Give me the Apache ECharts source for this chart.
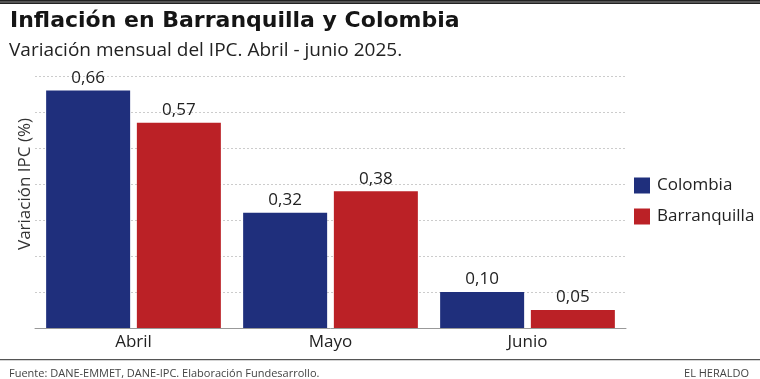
<!DOCTYPE html>
<html><head><meta charset="utf-8">
<script src="https://cdn.jsdelivr.net/npm/echarts@6/dist/echarts.min.js"></script>
<style>html,body{margin:0;padding:0;background:#fff}#c{width:760px;height:379px}</style>
</head><body><div id="c"></div>
<script>
const categories = ['Abril', 'Mayo', 'Junio'];
const colombia = [0.66, 0.32, 0.10];
const barranquilla = [0.57, 0.38, 0.05];
const seriesNames = ['Colombia', 'Barranquilla'];

const chart = echarts.init(document.getElementById('c'), null, {renderer: 'canvas'});
const FONT = 'Open Sans';
const fmt = p => p.value.toFixed(2).replace('.', ',');
chart.setOption({
  animation: false,
  backgroundColor: '#fff',
  textStyle: {fontFamily: FONT},
  title: [
    {text: 'Inflación en Barranquilla y Colombia', left: 5, top: 5,
     textStyle: {fontFamily: 'DejaVu Sans', fontWeight: 'bold', fontSize: 22, color: '#151515'}},
    {text: 'Variación mensual del IPC. Abril - junio 2025.', left: 4, top: 36,
     textStyle: {fontFamily: FONT, fontWeight: 'normal', fontSize: 19, color: '#222'}},
    {text: 'Fuente: DANE-EMMET, DANE-IPC. Elaboración Fundesarrollo.', left: 4, top: 363,
     textStyle: {fontFamily: FONT, fontWeight: 'normal', fontSize: 11, color: '#444'}},
    {text: 'EL HERALDO', right: 6, top: 363,
     textStyle: {fontFamily: FONT, fontWeight: 'normal', fontSize: 11, color: '#444'}}
  ],
  graphic: [
    {type: 'rect', shape: {x: 0, y: 0, width: 760, height: 4}, style: {fill: '#222'}},
    {type: 'rect', shape: {x: 0, y: 1.5, width: 760, height: 1}, style: {fill: '#888'}},
    {type: 'rect', shape: {x: 0, y: 359, width: 760, height: 1.2}, style: {fill: '#555'}},
    {type: 'text', x: 25, y: 184, rotation: Math.PI / 2,
     style: {text: 'Variación IPC (%)', fontFamily: FONT, fontSize: 17, fill: '#333',
             align: 'center', verticalAlign: 'middle'}}
  ],
  legend: {
    orient: 'vertical', left: 629, top: 172, itemWidth: 16, itemHeight: 16, itemGap: 14,
    icon: 'rect',
    textStyle: {fontFamily: FONT, fontSize: 17, color: '#222', padding: [0, 0, 0, 2]},
    data: seriesNames
  },
  grid: {left: 35, right: 134, top: 76, bottom: 51},
  xAxis: {
    type: 'category', data: categories,
    axisLine: {lineStyle: {color: '#999', width: 1}},
    axisTick: {show: false},
    axisLabel: {fontFamily: FONT, fontSize: 17, color: '#222', margin: 6}
  },
  yAxis: {
    type: 'value', min: 0, max: 0.7, interval: 0.1,
    axisLabel: {show: false}, axisLine: {show: false}, axisTick: {show: false},
    splitLine: {lineStyle: {color: '#ccc', type: [2, 2], width: 1}}
  },
  series: [
    {name: seriesNames[0], type: 'bar', data: colombia, barWidth: 84, barGap: '8%',
     itemStyle: {color: '#1f2f7c'},
     label: {show: true, position: 'top', distance: 4, formatter: fmt,
             fontFamily: FONT, fontSize: 17, color: '#222'}},
    {name: seriesNames[1], type: 'bar', data: barranquilla, barWidth: 84,
     itemStyle: {color: '#bb2126'},
     label: {show: true, position: 'top', distance: 4, formatter: fmt,
             fontFamily: FONT, fontSize: 17, color: '#222'}}
  ]
});
</script></body></html>
